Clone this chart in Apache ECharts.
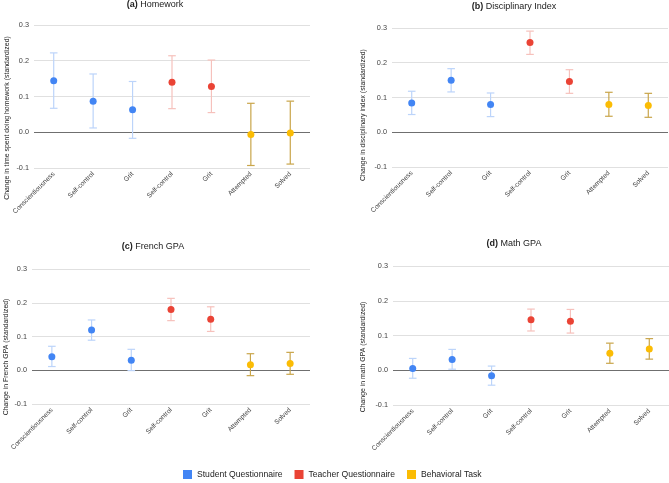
<!DOCTYPE html>
<html>
<head>
<meta charset="utf-8">
<script src="https://cdn.jsdelivr.net/npm/echarts@6/dist/echarts.min.js"></script>
<style>html,body{margin:0;padding:0;background:#fff;}#c{width:669px;height:483px;}</style>
</head>
<body>
<div id="c"></div>
<script>
const categories = ['Conscientiousness','Self-control','Grit','Self-control','Grit','Attempted','Solved'];
const groups = ['Student Questionnaire','Teacher Questionnaire','Behavioral Task'];
const groupOfCategory = [0,0,0,1,1,2,2];
const yTicks = [-0.1, 0.0, 0.1, 0.2, 0.3];

const panelTitles = ['Homework','Disciplinary Index','French GPA','Math GPA'];
const panelLetters = ['(a)','(b)','(c)','(d)'];
const yAxisTitles = [
  'Change in time spent doing homework (standardized)',
  'Change in disciplinary index (standardized)',
  'Change in French GPA (standardized)',
  'Change in math GPA (standardized)'
];

const homeworkEst  = [0.144, 0.087, 0.063, 0.140, 0.128, -0.006, -0.002];
const homeworkLow  = [0.067, 0.012, -0.017, 0.066, 0.055, -0.093, -0.089];
const homeworkHigh = [0.222, 0.163, 0.142, 0.214, 0.202, 0.081, 0.087];

const disciplineEst  = [0.084, 0.150, 0.080, 0.258, 0.146, 0.080, 0.077];
const disciplineLow  = [0.051, 0.116, 0.045, 0.224, 0.112, 0.046, 0.043];
const disciplineHigh = [0.118, 0.183, 0.113, 0.291, 0.180, 0.115, 0.112];

const frenchEst  = [0.040, 0.119, 0.030, 0.180, 0.151, 0.016, 0.020];
const frenchLow  = [0.011, 0.089, -0.001, 0.147, 0.115, -0.016, -0.012];
const frenchHigh = [0.071, 0.149, 0.062, 0.213, 0.188, 0.049, 0.053];

const mathEst  = [0.005, 0.031, -0.016, 0.145, 0.141, 0.049, 0.061];
const mathLow  = [-0.023, 0.003, -0.043, 0.113, 0.107, 0.020, 0.032];
const mathHigh = [0.034, 0.060, 0.012, 0.176, 0.175, 0.078, 0.091];

const panels = [
  {est: homeworkEst, low: homeworkLow, high: homeworkHigh},
  {est: disciplineEst, low: disciplineLow, high: disciplineHigh},
  {est: frenchEst, low: frenchLow, high: frenchHigh},
  {est: mathEst, low: mathLow, high: mathHigh}
];

// styling
const FONT = 'Liberation Sans, Arial, sans-serif';
const pointColors = ['#4285F4', '#EA4335', '#FBBC04'];
const barColors = ['#bcd4fa', '#f6c1bc', '#c9a54a'];
const grids = [
  {left: 34, top: 25, width: 276, height: 143},
  {left: 392, top: 28, width: 276, height: 139},
  {left: 32, top: 269, width: 278, height: 135},
  {left: 393, top: 266, width: 276, height: 139}
];
const titlePos = [
  {x: 155, y: 0},
  {x: 514, y: 2},
  {x: 153, y: 242},
  {x: 514, y: 239}
];
const yTitlePos = [
  {x: 7, y: 118},
  {x: 363, y: 115},
  {x: 6, y: 357},
  {x: 363, y: 357}
];

const option = {
  animation: false,
  backgroundColor: '#fff',
  title: panelTitles.map((t, i) => ({
    text: '{b|' + panelLetters[i] + '} ' + t,
    left: titlePos[i].x, top: titlePos[i].y, padding: 0,
    textAlign: 'center',
    textStyle: {
      fontFamily: FONT, fontSize: 9, fontWeight: 'normal', color: '#222',
      rich: { b: { fontWeight: 'bold', fontSize: 9, color: '#222', fontFamily: FONT } }
    }
  })),
  legend: {
    data: groups.map((g, i) => ({name: g, itemStyle: {color: pointColors[i]}})),
    left: 183, top: 470, padding: 0,
    icon: 'rect', itemWidth: 9, itemHeight: 9, itemGap: 12,
    textStyle: {fontFamily: FONT, fontSize: 8.6, color: '#222'}
  },
  graphic: yAxisTitles.map((t, i) => ({
    type: 'text', x: yTitlePos[i].x, y: yTitlePos[i].y, rotation: Math.PI / 2,
    style: {text: t, align: 'center', verticalAlign: 'middle', fontSize: 6.9,
            fontFamily: FONT, fill: '#222'}
  })),
  grid: grids,
  xAxis: grids.map((g, i) => ({
    type: 'category', gridIndex: i, data: categories,
    axisLine: {show: false, onZero: false}, axisTick: {show: false},
    splitLine: {show: false},
    axisLabel: {rotate: 45, interval: 0, fontSize: 6.7, color: '#444', margin: 5, fontFamily: FONT}
  })),
  yAxis: grids.map((g, i) => ({
    type: 'value', gridIndex: i, min: -0.1, max: 0.3, interval: 0.1,
    axisLine: {show: false}, axisTick: {show: false},
    splitLine: {show: true, lineStyle: {color: ['#e0e0e0', '#6f6f6f', '#e0e0e0', '#e0e0e0', '#e0e0e0'], width: 1}},
    axisLabel: {fontSize: 7.3, color: '#444', margin: 5, fontFamily: FONT,
                formatter: v => v.toFixed(1)}
  })),
  series: []
};

panels.forEach((p, pi) => {
  groups.forEach((g, gi) => {
    const idx = [];
    groupOfCategory.forEach((gc, ci) => { if (gc === gi) idx.push(ci); });
    option.series.push({
      type: 'custom', name: g, xAxisIndex: pi, yAxisIndex: pi, z: 2,
      data: idx.map(ci => [ci, p.low[ci], p.high[ci]]),
      encode: {x: 0, y: [1, 2]},
      renderItem: function (params, api) {
        const x = api.value(0);
        const lo = api.coord([x, api.value(1)]);
        const hi = api.coord([x, api.value(2)]);
        const w = 3.8;
        const st = {stroke: barColors[gi], lineWidth: 1.2};
        return {type: 'group', children: [
          {type: 'line', shape: {x1: lo[0], y1: lo[1], x2: hi[0], y2: hi[1]}, style: st},
          {type: 'line', shape: {x1: hi[0] - w, y1: hi[1], x2: hi[0] + w, y2: hi[1]}, style: st},
          {type: 'line', shape: {x1: lo[0] - w, y1: lo[1], x2: lo[0] + w, y2: lo[1]}, style: st}
        ]};
      }
    });
    option.series.push({
      type: 'scatter', name: g, xAxisIndex: pi, yAxisIndex: pi, z: 3,
      symbolSize: 7,
      itemStyle: {color: pointColors[gi], opacity: 1},
      data: idx.map(ci => [ci, p.est[ci]])
    });
  });
});

const chart = echarts.init(document.getElementById('c'), null, {renderer: 'canvas'});
chart.setOption(option);
</script>
</body>
</html>
